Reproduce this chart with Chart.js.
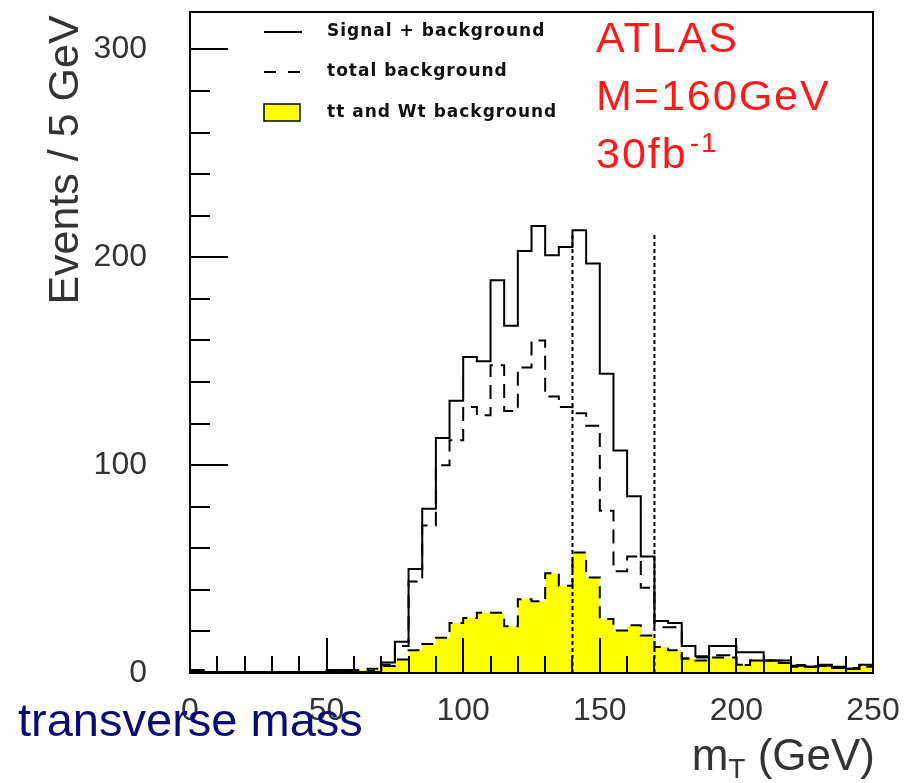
<!DOCTYPE html>
<html>
<head>
<meta charset="utf-8">
<script src="https://cdn.jsdelivr.net/npm/chart.js@4.4.1/dist/chart.umd.min.js"></script>
<style>
  html, body { margin: 0; padding: 0; background: #fff; }
  #wrap { width: 911px; height: 783px; position: relative; }
</style>
</head>
<body>
<div id="wrap"><canvas id="mt-chart" width="911" height="783"></canvas></div>
<script>
// Histogram: transverse mass, 5 GeV bins from 0 to 250 GeV
const binStart = 0;
const binWidth = 5;

// Signal + background (solid)
const sigBkg = [
    1.4, 0.5, 0.5, 0.5, 0.5, 0.5, 0.5, 0.5, 0.5, 0.5,
    1.5, 1.5, 0.5, 0.5, 5, 15, 50, 79, 113, 131,
    152, 150, 189, 167, 203, 215, 201, 205, 213, 197,
    144, 107, 85, 56, 25, 24, 13, 8, 13, 13,
    10, 10, 6, 6, 3.5, 3, 4, 3, 2, 4
];

// total background (dashed)
const totalBkg = [
    1, 0.3, 0.3, 0.3, 0.3, 0.3, 0.3, 0.3, 0.3, 0.3,
    1, 1, 0.5, 1, 4, 13, 44, 71, 100, 112,
    128, 124, 148, 126, 147, 160, 133, 128, 125, 119,
    78, 49, 56, 41, 22, 22, 7, 7.5, 8.5, 8.5,
    4, 6, 6, 6, 3, 3, 3.5, 2.5, 2, 3
];

// tt and Wt background (yellow)
const ttWt = [
    0.2, 0.2, 0.2, 0.2, 0.2, 0.2, 0.2, 0.2, 0.2, 0.2,
    0.5, 1, 1.5, 2, 3.4, 6.5, 11, 14, 17, 24,
    26.5, 29, 29, 22.5, 35.5, 34.5, 48, 42, 58, 46,
    26, 20.5, 23, 18, 12.5, 11, 7, 6, 7.5, 7.5,
    3.9, 6, 6, 4.8, 3.9, 3.4, 3.4, 2.4, 2.4, 3.8
];

// mass window cuts
const cutValues = [140, 170];
const cutTop = 212;

const xTicks = [0, 50, 100, 150, 200, 250];
const yTicks = [0, 100, 200, 300];
const legendLabels = ['Signal + background', 'total background', 'tt and Wt background'];

// Utility: turn bin contents into step points on the bin edges
function toSteps(values) {
    const pts = values.map((v, i) => ({ x: binStart + i * binWidth, y: v }));
    pts.push({ x: binStart + values.length * binWidth, y: values[values.length - 1] });
    return pts;
}

function cutLine(x) {
    return [{ x: x, y: 0 }, { x: x, y: cutTop }];
}

// Frame, inward ticks, labels and legend
const decorations = {
    id: 'decorations',
    afterDatasetsDraw(chart) {
        const ctx = chart.ctx;
        const area = chart.chartArea;
        const xs = chart.scales.x;
        const ys = chart.scales.y;
        ctx.save();

        // frame
        ctx.strokeStyle = '#000';
        ctx.lineWidth = 2;
        ctx.setLineDash([]);
        ctx.strokeRect(area.left, area.top, area.right - area.left, area.bottom - area.top);

        // x ticks (inward)
        for (let v = 0; v <= 250; v += 10) {
            const px = Math.round(xs.getPixelForValue(v));
            const len = v % 50 === 0 ? 35 : 17;
            ctx.beginPath();
            ctx.moveTo(px, area.bottom);
            ctx.lineTo(px, area.bottom - len);
            ctx.stroke();
        }
        // y ticks (inward)
        for (let v = 0; v <= 300; v += 20) {
            const py = Math.round(ys.getPixelForValue(v));
            const len = v % 100 === 0 ? 38 : 20;
            ctx.beginPath();
            ctx.moveTo(area.left, py);
            ctx.lineTo(area.left + len, py);
            ctx.stroke();
        }

        // legend
        ctx.lineWidth = 2;
        ctx.beginPath();
        ctx.moveTo(264, 32);
        ctx.lineTo(302, 32);
        ctx.stroke();
        ctx.setLineDash([12, 12]);
        ctx.beginPath();
        ctx.moveTo(264, 72);
        ctx.lineTo(302, 72);
        ctx.stroke();
        ctx.setLineDash([]);
        ctx.fillStyle = '#ffff00';
        ctx.fillRect(264, 104, 36, 17);
        ctx.lineWidth = 1.5;
        ctx.strokeRect(264, 104, 36, 17);

        ctx.fillStyle = '#111';
        ctx.font = 'bold 17px "DejaVu Sans"';
        ctx.letterSpacing = '1px';
        ctx.textBaseline = 'middle';
        ctx.textAlign = 'left';
        ctx.fillText(legendLabels[0], 327, 32);
        ctx.fillText(legendLabels[1], 327, 72);
        ctx.fillText(legendLabels[2], 327, 113);

        // ATLAS text
        ctx.fillStyle = '#ff1a1a';
        ctx.textBaseline = 'alphabetic';
        ctx.letterSpacing = '2px';
        ctx.font = '43px "Liberation Sans"';
        ctx.fillText('ATLAS', 596, 52);
        ctx.fillText('M=160GeV', 596, 110);
        ctx.fillText('30fb', 596, 168);
        const w30 = ctx.measureText('30fb').width;
        ctx.font = '28px "Liberation Sans"';
        ctx.fillText('-1', 596 + w30 + 2, 152);
        ctx.letterSpacing = '0px';

        // y title
        ctx.fillStyle = '#333';
        ctx.font = '43px "Liberation Sans"';
        ctx.save();
        ctx.translate(78, 160);
        ctx.rotate(-Math.PI / 2);
        ctx.textAlign = 'center';
        ctx.fillText('Events / 5 GeV', 0, 0);
        ctx.restore();

        // x title m_T (GeV), right aligned
        ctx.font = '44px "Liberation Sans"';
        const wm = ctx.measureText('m').width;
        const wRest = ctx.measureText(' (GeV)').width;
        ctx.font = '28px "Liberation Sans"';
        const wT = ctx.measureText('T').width;
        const x0 = 875 - wm - wT - wRest;
        ctx.font = '44px "Liberation Sans"';
        ctx.fillText('m', x0, 770);
        ctx.font = '28px "Liberation Sans"';
        ctx.fillText('T', x0 + wm, 778);
        ctx.font = '44px "Liberation Sans"';
        ctx.fillText(' (GeV)', x0 + wm + wT, 770);

        // annotation
        ctx.fillStyle = '#0b0b78';
        ctx.font = '47px "Liberation Sans"';
        ctx.fillText('transverse mass', 18, 736);

        ctx.restore();
    }
};

document.addEventListener('DOMContentLoaded', function() {
    const ctx = document.getElementById('mt-chart').getContext('2d');
    new Chart(ctx, {
        type: 'line',
        data: {
            datasets: [
                {
                    label: legendLabels[0],
                    data: toSteps(sigBkg),
                    stepped: 'before',
                    borderColor: '#000',
                    borderWidth: 2,
                    pointRadius: 0,
                    fill: false,
                    order: 1
                },
                {
                    label: legendLabels[1],
                    data: toSteps(totalBkg),
                    stepped: 'before',
                    borderColor: '#000',
                    borderWidth: 2,
                    borderDash: [14, 8],
                    pointRadius: 0,
                    fill: false,
                    order: 2
                },
                {
                    label: legendLabels[2],
                    data: toSteps(ttWt),
                    stepped: 'before',
                    borderColor: '#000',
                    borderWidth: 2,
                    borderDash: [12, 8],
                    backgroundColor: '#ffff00',
                    pointRadius: 0,
                    fill: 'origin',
                    order: 4
                },
                {
                    label: 'cut low',
                    data: cutLine(cutValues[0]),
                    borderColor: '#000',
                    borderWidth: 2,
                    borderDash: [4, 3],
                    pointRadius: 0,
                    fill: false,
                    order: 3
                },
                {
                    label: 'cut high',
                    data: cutLine(cutValues[1]),
                    borderColor: '#000',
                    borderWidth: 2,
                    borderDash: [4, 3],
                    pointRadius: 0,
                    fill: false,
                    order: 3
                }
            ]
        },
        options: {
            responsive: false,
            animation: false,
            layout: { autoPadding: false, padding: { left: 0, right: 38, top: 12, bottom: 0 } },
            plugins: {
                legend: { display: false },
                tooltip: { enabled: false }
            },
            scales: {
                x: {
                    type: 'linear',
                    min: 0,
                    max: 250,
                    afterBuildTicks: s => { s.ticks = xTicks.map(v => ({ value: v })); },
                    afterFit: s => {
                        s.height = 110;
                        s.paddingLeft = 0;
                        s.paddingRight = 0;
                    },
                    grid: { display: false, drawTicks: false },
                    border: { display: false },
                    ticks: {
                        color: '#333',
                        font: { family: 'Liberation Sans', size: 32 },
                        padding: 19,
                        maxRotation: 0
                    }
                },
                y: {
                    type: 'linear',
                    min: 0,
                    max: 318,
                    afterBuildTicks: s => { s.ticks = yTicks.map(v => ({ value: v })); },
                    afterFit: s => {
                        s.width = 190;
                        s.paddingTop = 0;
                        s.paddingBottom = 0;
                    },
                    grid: { display: false, drawTicks: false },
                    border: { display: false },
                    ticks: {
                        color: '#333',
                        font: { family: 'Liberation Sans', size: 32 },
                        padding: 43
                    }
                }
            }
        },
        plugins: [decorations]
    });
});
</script>
</body>
</html>
